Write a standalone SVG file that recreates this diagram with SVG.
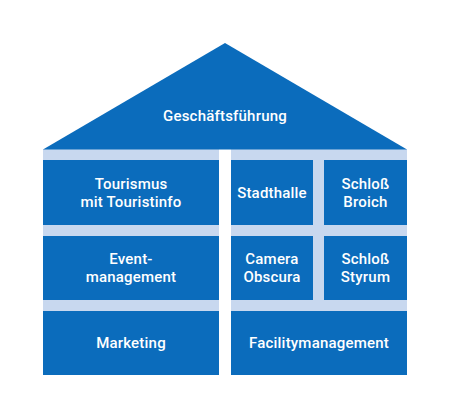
<svg xmlns="http://www.w3.org/2000/svg" width="450" height="418" viewBox="0 0 450 418">
<style>
.b{fill:#0b6cbc}
.l{fill:#c8d8ef}
text{fill:#ffffff;font-family:Roboto,"Liberation Sans",sans-serif;font-size:15px;font-weight:500;text-anchor:middle;letter-spacing:0.2px}
</style>
<rect width="450" height="418" fill="#ffffff"/>
<g id="bands">
<rect class="l" x="43" y="149" width="176" height="226"/>
<rect class="l" x="231" y="149" width="176" height="226"/>
</g>
<g id="connectors"></g>
<g id="geschaeftsfuehrung">
<polygon class="b" points="43,149.5 225,43 407,149.5"/>
<text x="225" y="121">Geschäftsführung</text>
</g>
<g id="tourismus">
<rect class="b" x="43" y="160" width="176" height="65"/>
<text x="131" y="189">Tourismus</text>
<text x="131" y="206.5">mit Touristinfo</text>
</g>
<g id="eventmanagement">
<rect class="b" x="43" y="236" width="176" height="64"/>
<text x="131" y="264">Event-</text>
<text x="131" y="281.5">management</text>
</g>
<g id="marketing">
<rect class="b" x="43" y="311" width="176" height="64"/>
<text x="131" y="348">Marketing</text>
</g>
<g id="stadthalle">
<rect class="b" x="231" y="160" width="82" height="65"/>
<text x="272" y="198">Stadthalle</text>
</g>
<g id="schloss-broich">
<rect class="b" x="324" y="160" width="83" height="65"/>
<text x="365.5" y="189">Schloß</text>
<text x="365.5" y="206.5">Broich</text>
</g>
<g id="camera-obscura">
<rect class="b" x="231" y="236" width="82" height="64"/>
<text x="272" y="264">Camera</text>
<text x="272" y="281.5">Obscura</text>
</g>
<g id="schloss-styrum">
<rect class="b" x="324" y="236" width="83" height="64"/>
<text x="365.5" y="264">Schloß</text>
<text x="365.5" y="281.5">Styrum</text>
</g>
<g id="facilitymanagement">
<rect class="b" x="231" y="311" width="176" height="64"/>
<text x="319" y="348">Facilitymanagement</text>
</g>
</svg>
